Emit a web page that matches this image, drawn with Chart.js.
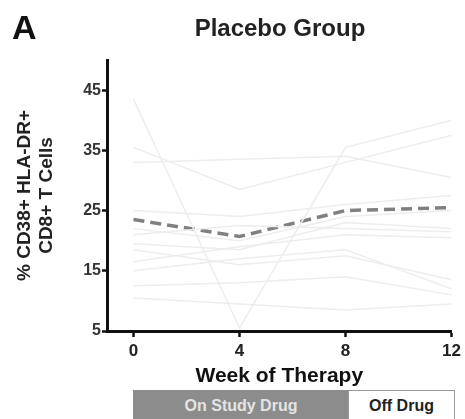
<!DOCTYPE html>
<html>
<head>
<meta charset="utf-8">
<script src="https://cdn.jsdelivr.net/npm/chart.js@4.4.0/dist/chart.umd.min.js"></script>
<style>
  body { margin: 0; background: #fff; font-family: "Liberation Sans", Arial, sans-serif; }
  #wrap { position: relative; width: 465px; height: 419px; overflow: hidden; }
  #panel { position: absolute; left: 12px; top: 8px; font-size: 34px; font-weight: bold; color: #111; }
  #title { position: absolute; left: 180px; width: 200px; top: 14px; text-align: center; font-size: 24px; font-weight: bold; color: #222; }
  .box { position: absolute; top: 390px; height: 32px; box-sizing: border-box; font-weight: bold; font-size: 16px; text-align: center; line-height: 30px; }
  #onDrug { left: 133px; width: 216px; background: #8c8c8c; color: #e4e4e4; border: 1px solid #8c8c8c; }
  #offDrug { left: 348px; width: 107px; background: #fff; color: #222; border: 1px solid #999; }
</style>
</head>
<body>
<div id="wrap">
  <canvas id="chart" width="465" height="419"></canvas>
  <div id="panel">A</div>
  <div id="title">Placebo Group</div>
  <div class="box" id="onDrug">On Study Drug</div>
  <div class="box" id="offDrug">Off Drug</div>
</div>
<script>
const weeks = [0, 4, 8, 12];
const yTicks = [5, 15, 25, 35, 45];

// group mean (dashed line)
const meanValues = [23.5, 20.7, 25, 25.5];

// individual patients (faint lines)
const patientValues = [
  [43.5, 5.5, 35.5, 40],
  [35.5, 28.5, 33, 37.5],
  [33, 33.5, 34, 30.5],
  [25, 24, 26, 27.5],
  [21, 22.5, 22, 21.5],
  [19.5, 18.5, 23, 22],
  [18.5, 16, 17.5, 13.5],
  [16.5, 19, 21, 20.5],
  [15, 17, 18.5, 12],
  [12.5, 13, 14, 11],
  [10.5, 9.5, 8.5, 9.5],
  [22, 20, 24, 25]
];

const toPoints = vals => weeks.map((w, i) => ({ x: w, y: vals[i] }));

const fontFamily = "'Liberation Sans', Arial, sans-serif";

const datasets = patientValues.map(vals => ({
  data: toPoints(vals),
  borderColor: "#ededed",
  borderWidth: 1.5,
  pointRadius: 0,
  fill: false,
  tension: 0
}));

datasets.push({
  data: toPoints(meanValues),
  borderColor: "#808080",
  borderWidth: 3.5,
  borderDash: [11, 6],
  pointRadius: 0,
  fill: false,
  tension: 0
});

new Chart(document.getElementById("chart").getContext("2d"), {
  type: "line",
  data: { datasets: datasets },
  options: {
    responsive: false,
    animation: false,
    layout: { padding: { top: 60, right: 13, bottom: 30, left: 0 } },
    plugins: {
      legend: { display: false },
      tooltip: { enabled: false }
    },
    scales: {
      x: {
        type: "linear",
        min: -1,
        max: 12,
        afterBuildTicks: s => { s.ticks = weeks.map(v => ({ value: v })); },
        afterFit: s => { s.height = 58; },
        grid: { display: true, drawOnChartArea: false, drawTicks: true, tickLength: 6, tickWidth: 2.5, tickColor: "#111" },
        border: { display: true, color: "#111", width: 3 },
        ticks: {
          color: "#222",
          padding: 4,
          maxRotation: 0,
          font: { size: 17, weight: "bold", family: fontFamily }
        },
        title: {
          display: true,
          text: "Week of Therapy",
          color: "#111",
          padding: { top: 0, bottom: 0 },
          font: { size: 21, weight: "bold", family: fontFamily }
        }
      },
      y: {
        min: 5,
        max: 50,
        afterBuildTicks: s => { s.ticks = yTicks.map(v => ({ value: v })); },
        afterFit: s => { s.width = 107; },
        grid: { display: true, drawOnChartArea: false, drawTicks: true, tickLength: 5, tickWidth: 2.5, tickColor: "#111" },
        border: { display: true, color: "#111", width: 3 },
        ticks: {
          color: "#333",
          padding: 1,
          font: { size: 16, weight: "bold", family: fontFamily }
        },
        title: {
          display: true,
          text: ["% CD38+ HLA-DR+", "CD8+ T Cells"],
          color: "#222",
          padding: { top: 14, bottom: 0 },
          font: { size: 19, weight: "bold", family: fontFamily, lineHeight: 1.15 }
        }
      }
    }
  }
});
</script>
</body>
</html>
